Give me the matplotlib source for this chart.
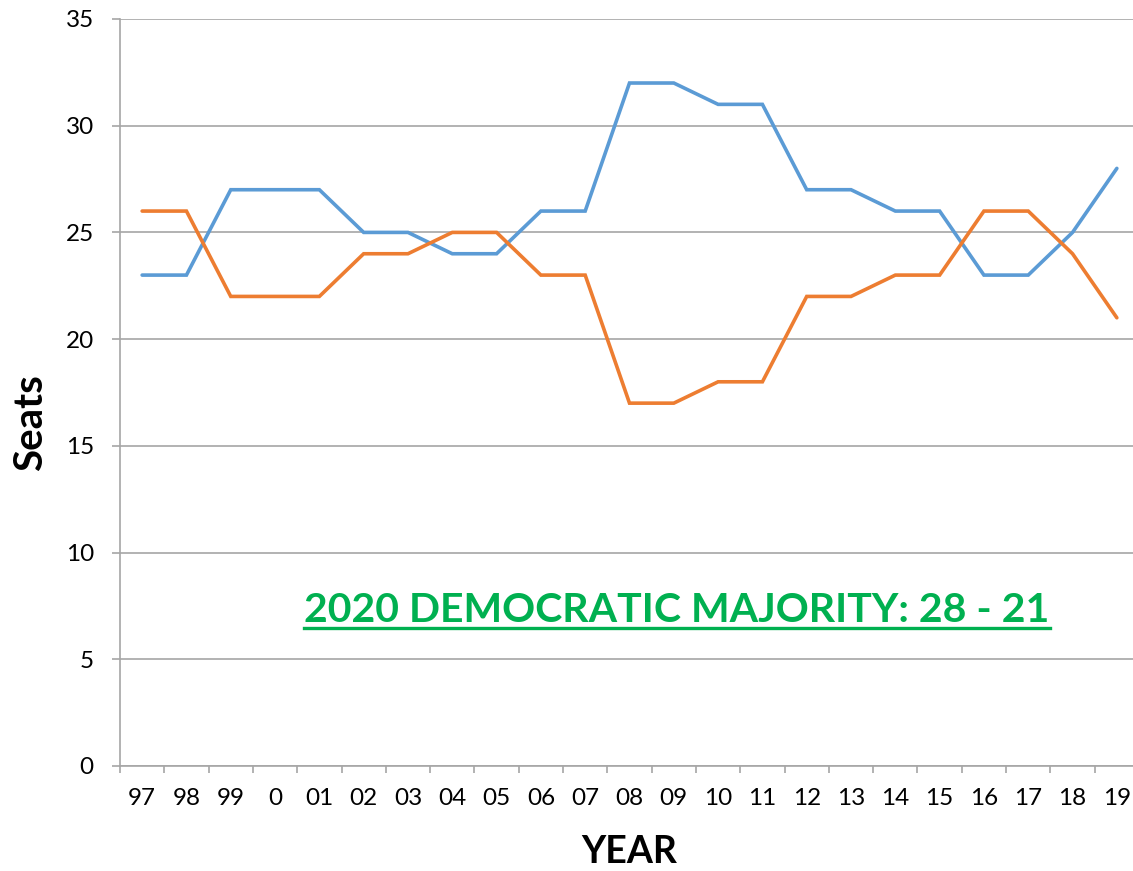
import matplotlib
matplotlib.use("Agg")
import matplotlib.pyplot as plt

plt.rcParams['font.family'] = ['Lato', 'DejaVu Sans']

years = ['97', '98', '99', '0', '01', '02', '03', '04', '05', '06', '07', '08',
         '09', '10', '11', '12', '13', '14', '15', '16', '17', '18', '19']
dem = [23, 23, 27, 27, 27, 25, 25, 24, 24, 26, 26, 32,
       32, 31, 31, 27, 27, 26, 26, 23, 23, 25, 28]
rep = [26, 26, 22, 22, 22, 24, 24, 25, 25, 23, 23, 17,
       17, 18, 18, 22, 22, 23, 23, 26, 26, 24, 21]
y_ticks = [0, 5, 10, 15, 20, 25, 30, 35]

grey = '#a6a6a6'
W, H = 1133, 871

fig = plt.figure(figsize=(11.33, 8.71), dpi=100)
ax = fig.add_axes([0.1059, 0.1206, 0.8994, 0.8576])

x = range(len(years))
ax.plot(x, dem, color='#5B9BD5', lw=2.6, solid_capstyle='round', solid_joinstyle='miter')
ax.plot(x, rep, color='#ED7D31', lw=2.6, solid_capstyle='round', solid_joinstyle='miter')

ax.set_xlim(-0.5, len(years) - 0.5)
ax.set_ylim(0, 35)
ax.set_yticks(y_ticks)
ax.yaxis.grid(True, color=grey, lw=1.2)
ax.set_axisbelow(True)

# category labels centred, tick marks between categories
ax.set_xticks(list(x))
ax.set_xticklabels(years)
ax.set_xticks([i - 0.5 for i in range(len(years) + 1)], minor=True)
ax.tick_params(axis='x', which='major', length=0, pad=16, labelsize=17.5)
ax.tick_params(axis='x', which='minor', length=5, width=1.2, color=grey, direction='out')
ax.tick_params(axis='y', length=5.8, width=1.2, color=grey, pad=13, labelsize=17.5)

for s in ['top', 'right']:
    ax.spines[s].set_visible(False)
for s in ['left', 'bottom']:
    ax.spines[s].set_color(grey)
    ax.spines[s].set_linewidth(1.2)

fig.text(42 / W, 1 - 423 / H, 'Seats', rotation=90, rotation_mode='anchor',
         ha='center', va='baseline', fontsize=29, fontweight='bold')
fig.text(629 / W, 1 - 863 / H, 'YEAR', ha='center', va='baseline',
         fontsize=27, fontweight='bold')

txt = fig.text(677 / W, 1 - 622 / H, '2020 DEMOCRATIC MAJORITY: 28 - 21', color='#00B050',
               fontsize=29.5, fontweight='bold', ha='center', va='baseline')
fig.canvas.draw()
bb = txt.get_window_extent().transformed(fig.transFigure.inverted())
uy = 1 - 628 / H
fig.add_artist(plt.Line2D([bb.x0, bb.x1], [uy, uy],
                          color='#00B050', lw=2.4, transform=fig.transFigure))

fig.savefig('out.png', dpi=100)
